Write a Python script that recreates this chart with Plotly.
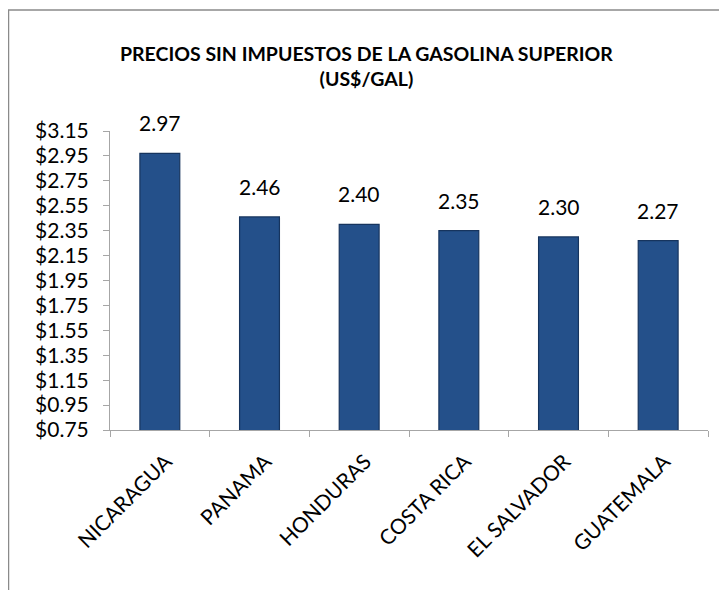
import plotly.graph_objects as go

countries = ["NICARAGUA", "PANAMA", "HONDURAS", "COSTA RICA", "EL SALVADOR", "GUATEMALA"]
prices = [2.97, 2.46, 2.40, 2.35, 2.30, 2.27]
y_min, y_max, y_step = 0.75, 3.15, 0.20
title_lines = ["PRECIOS SIN IMPUESTOS DE LA GASOLINA SUPERIOR", "(US$/GAL)"]

OFF = 8  # page body margin
W, H = 727 - OFF, 590 - OFF
FONT = "Lato, Open Sans, sans-serif"


def fx(px):
    return (px - OFF) / W


def fy(py):
    return 1 - (py - OFF) / H


fig = go.Figure()
fig.add_trace(go.Bar(
    x=countries, y=prices,
    marker=dict(color="#24508A", line=dict(color="#16345E", width=1.2)),
    width=0.4,
    hoverinfo="x+y",
))

for c, v in zip(countries, prices):
    fig.add_annotation(x=c, y=v, text=f"{v:.2f}", showarrow=False,
                       yanchor="bottom", yshift=16,
                       font=dict(family=FONT, size=21, color="#000000"))

fig.add_annotation(xref="paper", yref="paper", x=fx(366), y=fy(66),
                   text="<b>" + "<br>".join(title_lines) + "</b>", showarrow=False,
                   xanchor="center", yanchor="middle",
                   font=dict(family=FONT, size=19.5, color="#000000"))

# chart frame (top and left edges)
fig.add_shape(type="line", xref="paper", yref="paper", x0=fx(5), x1=1, y0=fy(10), y1=fy(10),
              line=dict(color="#8A8A8A", width=1.5))
fig.add_shape(type="line", xref="paper", yref="paper", x0=fx(8.5), x1=fx(8.5), y0=0, y1=fy(10),
              line=dict(color="#8A8A8A", width=1.5))

fig.update_layout(
    width=W, height=H,
    margin=dict(l=0, r=0, t=0, b=0),
    paper_bgcolor="white", plot_bgcolor="white",
    showlegend=False,
    xaxis=dict(
        domain=[fx(110), fx(708)], automargin=False,
        showline=True, linecolor="#A6A6A6", linewidth=1,
        ticks="outside", tickson="boundaries", ticklen=6, tickcolor="#A6A6A6",
        tickangle=-45, tickfont=dict(family=FONT, size=21, color="#000000"),
        ticklabelstandoff=10, ticklabelshift=6,
        showgrid=False,
    ),
    yaxis=dict(
        domain=[fy(430), fy(131)], automargin=False,
        range=[y_min, y_max], tick0=y_min, dtick=y_step,
        tickformat="$.2f",
        showline=True, linecolor="#A6A6A6", linewidth=1,
        ticks="outside", ticklen=6, tickcolor="#A6A6A6",
        tickfont=dict(family=FONT, size=21, color="#000000"),
        ticklabelstandoff=10,
        showgrid=False, zeroline=False,
    ),
)

fig.write_html("out.html")
